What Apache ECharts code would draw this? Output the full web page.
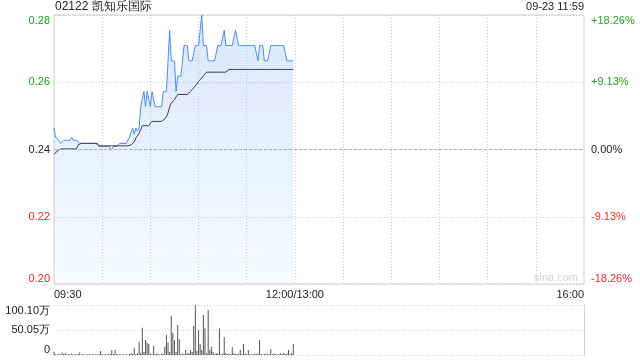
<!DOCTYPE html>
<html><head><meta charset="utf-8">
<script src="https://cdn.jsdelivr.net/npm/echarts@6/dist/echarts.min.js"></script>
<style>html,body{margin:0;padding:0;background:#fff}#c{width:640px;height:360px}</style>
</head><body><div id="c"></div>
<script>
const titleText = '02122 凯知乐国际';
const dateText = '09-23 11:59';
const prevClose = 0.241;
const axisMaxPrice = 0.285;
const xTickLabels = ['09:30', '12:00/13:00', '16:00'];
const volMax = 1001000;

const price = [
0.248,0.245,0.245,0.244,0.243,0.243,0.244,0.244,0.244,0.244,
0.244,0.245,0.244,0.244,0.244,0.244,0.243,0.243,0.243,0.243,
0.243,0.243,0.243,0.243,0.243,0.243,0.243,0.243,0.242,0.242,
0.242,0.242,0.242,0.242,0.242,0.242,0.241,0.242,0.242,0.242,
0.242,0.243,0.243,0.243,0.243,0.243,0.243,0.245,0.245,0.248,
0.246,0.248,0.247,0.248,0.255,0.255,0.26,0.255,0.26,0.26,
0.255,0.26,0.26,0.255,0.255,0.255,0.255,0.255,0.26,0.26,
0.26,0.26,0.28,0.27,0.27,0.27,0.26,0.265,0.265,0.265,
0.265,0.275,0.275,0.275,0.27,0.27,0.27,0.27,0.275,0.275,
0.275,0.275,0.285,0.275,0.275,0.275,0.27,0.27,0.27,0.27,
0.27,0.27,0.275,0.275,0.275,0.275,0.28,0.275,0.275,0.275,
0.275,0.275,0.275,0.28,0.28,0.275,0.275,0.275,0.275,0.275,
0.275,0.275,0.275,0.275,0.275,0.275,0.275,0.27,0.275,0.275,
0.275,0.27,0.27,0.27,0.27,0.275,0.275,0.275,0.275,0.275,
0.275,0.275,0.275,0.275,0.275,0.27,0.27,0.27,0.27,0.27
];

const avgPrice = [
0.2394,0.2400,0.2405,0.2408,0.2412,0.2412,0.2412,0.2412,0.2412,0.2412,
0.2412,0.2412,0.2412,0.2412,0.2412,0.2425,0.2430,0.2430,0.2430,0.2430,
0.2430,0.2430,0.2430,0.2430,0.2430,0.2430,0.2430,0.2430,0.2422,0.2422,
0.2422,0.2422,0.2422,0.2422,0.2422,0.2422,0.2422,0.2422,0.2422,0.2422,
0.2422,0.2422,0.2422,0.2422,0.2422,0.2422,0.2422,0.2423,0.2425,0.2428,
0.2435,0.2448,0.2455,0.2464,0.2475,0.2488,0.2488,0.2488,0.2488,0.2488,
0.2488,0.2502,0.2502,0.2502,0.2502,0.2502,0.2502,0.2502,0.2502,0.2510,
0.2517,0.2530,0.2549,0.2562,0.2568,0.2573,0.2582,0.2590,0.2590,0.2590,
0.2590,0.2590,0.2590,0.2590,0.2590,0.2600,0.2606,0.2612,0.2617,0.2625,
0.2633,0.2638,0.2644,0.2652,0.2658,0.2663,0.2663,0.2663,0.2663,0.2663,
0.2663,0.2663,0.2663,0.2663,0.2663,0.2663,0.2663,0.2663,0.2663,0.2672,
0.2672,0.2672,0.2672,0.2672,0.2672,0.2672,0.2672,0.2672,0.2672,0.2672,
0.2672,0.2672,0.2672,0.2672,0.2672,0.2672,0.2672,0.2672,0.2672,0.2672,
0.2672,0.2672,0.2672,0.2672,0.2672,0.2672,0.2672,0.2672,0.2672,0.2672,
0.2672,0.2672,0.2672,0.2672,0.2672,0.2672,0.2672,0.2672,0.2672,0.2672
];

const volume = [
66000,20000,10000,30000,10000,50000,20000,40000,10000,20000,
10000,30000,10000,20000,10000,20000,50000,10000,20000,10000,
15000,10000,20000,10000,15000,10000,20000,10000,20000,80000,
20000,10000,20000,10000,20000,30000,100000,20000,100000,20000,
10000,20000,10000,15000,10000,20000,10000,20000,40000,20000,
146000,20000,30000,266000,40000,547000,60000,300000,246000,220000,
30000,20000,186000,20000,30000,20000,10000,30000,20000,166000,
400000,246000,60000,787000,440000,300000,60000,600000,314000,20000,
30000,20000,100000,30000,40000,100000,60000,580000,1001000,80000,
500000,220000,100000,800000,534000,40000,900000,100000,166000,60000,
20000,40000,30000,534000,20000,30000,354000,40000,20000,30000,
20000,154000,40000,20000,20000,30000,100000,20000,220000,30000,
20000,100000,20000,10000,20000,30000,20000,30000,300000,20000,
10000,20000,30000,20000,20000,114000,20000,30000,20000,10000,
20000,30000,20000,40000,20000,30000,100000,20000,40000,220000
];

// category axis: one slot per minute, 09:30-12:00 (=13:00) and 13:01-16:00
function pad(n){return (n<10?'0':'')+n;}
const cats = [];
for (let m = 9*60+30; m < 12*60; m++) cats.push(pad(Math.floor(m/60))+':'+pad(m%60));
cats.push(xTickLabels[1]);
for (let m = 13*60+1; m <= 16*60; m++) cats.push(pad(Math.floor(m/60))+':'+pad(m%60));
const lastIdx = cats.length - 1;
const midIdx = cats.indexOf(xTickLabels[1]);

const maxPct = (axisMaxPrice - prevClose) / prevClose * 100;
const step = maxPct / 2;
const toPct = p => (p - prevClose) / prevClose * 100;
const pricePct = price.map(toPct);
const avgPct = avgPrice.map(toPct);

const GREEN = '#1ea51e', RED = '#f02828', BLACK = '#222';
const colorOf = v => Math.abs(v) < 1e-9 ? BLACK : (v > 0 ? GREEN : RED);
const FONT = 'Liberation Sans, Arial, sans-serif';

const chart = echarts.init(document.getElementById('c'), null, {renderer: 'canvas'});
chart.setOption({
  animation: false,
  textStyle: {fontFamily: FONT},
  grid: [
    {left: 54, right: 56, top: 15, bottom: 76, show: true, borderColor: '#cfcfcf', borderWidth: 1},
    {left: 54, right: 56, top: 305, bottom: 5}
  ],
  graphic: [
    {type: 'text', left: 55, top: 1, style: {text: titleText, font: '12px ' + FONT, fill: '#222'}},
    {type: 'text', right: 56, top: 1, style: {text: dateText, font: '11px ' + FONT, fill: '#222'}},
    {type: 'text', right: 62, top: 272, style: {text: 'sina.com', font: '11px ' + FONT, fill: '#d4d4d4'}}
  ],
  xAxis: [
    {type: 'category', gridIndex: 0, data: cats, boundaryGap: false,
     axisLine: {show: false}, axisTick: {show: false},
     axisLabel: {interval: (i) => i === 0 || i === midIdx || i === lastIdx,
                 color: '#222', fontSize: 11, margin: 5, alignMinLabel: 'left', alignMaxLabel: 'right',
                 showMinLabel: true, showMaxLabel: true},
     splitLine: {show: true, interval: (i) => i % 30 === 0 && i !== 0 && i !== lastIdx,
                 lineStyle: {color: '#cfcfcf', type: [1, 2], width: 1}}},
    {type: 'category', gridIndex: 1, data: cats, boundaryGap: false,
     axisLine: {show: false}, axisTick: {show: false}, axisLabel: {show: false}, splitLine: {show: false}}
  ],
  yAxis: [
    {type: 'value', gridIndex: 0, position: 'left', min: -maxPct, max: maxPct, interval: step,
     axisLine: {show: false}, axisTick: {show: false},
     splitLine: {show: true, lineStyle: {color: '#cfcfcf', type: [1, 2]}},
     axisLabel: {fontSize: 11, margin: 4, color: (v) => colorOf(+v),
                 verticalAlignMinLabel: 'bottom', verticalAlignMaxLabel: 'top',
                 formatter: (v) => (prevClose * (1 + v / 100)).toFixed(2)}},
    {type: 'value', gridIndex: 0, position: 'right', min: -maxPct, max: maxPct, interval: step,
     axisLine: {show: false}, axisTick: {show: false}, splitLine: {show: false},
     axisLabel: {fontSize: 11, margin: 7, color: (v) => colorOf(+v),
                 verticalAlignMinLabel: 'bottom', verticalAlignMaxLabel: 'top',
                 formatter: (v) => Math.abs(v) < 1e-9 ? '0.00%' : (v > 0 ? '+' : '') + v.toFixed(2) + '%'}},
    {type: 'value', gridIndex: 1, position: 'left', min: 0, max: volMax, interval: volMax / 2,
     axisLine: {show: false}, axisTick: {show: false},
     splitLine: {show: true, lineStyle: {color: '#cfcfcf', type: [1, 2]}},
     axisLabel: {fontSize: 11, margin: 4, color: '#222',
                 verticalAlignMinLabel: 'bottom', verticalAlignMaxLabel: 'top',
                 formatter: (v) => v === 0 ? '0' : (v / 10000).toFixed(2) + '万'}},
    {type: 'value', gridIndex: 1, position: 'right', min: 0, max: volMax, interval: volMax / 2,
     axisLine: {show: true, lineStyle: {color: '#cfcfcf'}}, axisTick: {show: false},
     splitLine: {show: false}, axisLabel: {show: false}}
  ],
  series: [
    {type: 'line', xAxisIndex: 0, yAxisIndex: 0, data: pricePct, showSymbol: false, symbol: 'none',
     lineStyle: {color: '#4d8cf0', width: 1},
     areaStyle: {origin: 'start', color: new echarts.graphic.LinearGradient(0, 0, 0, 1, [
       {offset: 0, color: 'rgba(77,140,240,0.30)'}, {offset: 1, color: 'rgba(77,140,240,0.06)'}])},
     markLine: {silent: true, symbol: 'none', label: {show: false},
                lineStyle: {color: '#b0b0b0', type: [3, 2], width: 1},
                data: [{yAxis: 0}]},
     z: 3},
    {type: 'line', xAxisIndex: 0, yAxisIndex: 0, data: avgPct, showSymbol: false, symbol: 'none',
     lineStyle: {color: '#3c3c48', width: 1}, z: 4},
    {type: 'bar', xAxisIndex: 1, yAxisIndex: 2, data: volume, barWidth: 1,
     itemStyle: {color: '#555'}}
  ]
});
</script></body></html>
